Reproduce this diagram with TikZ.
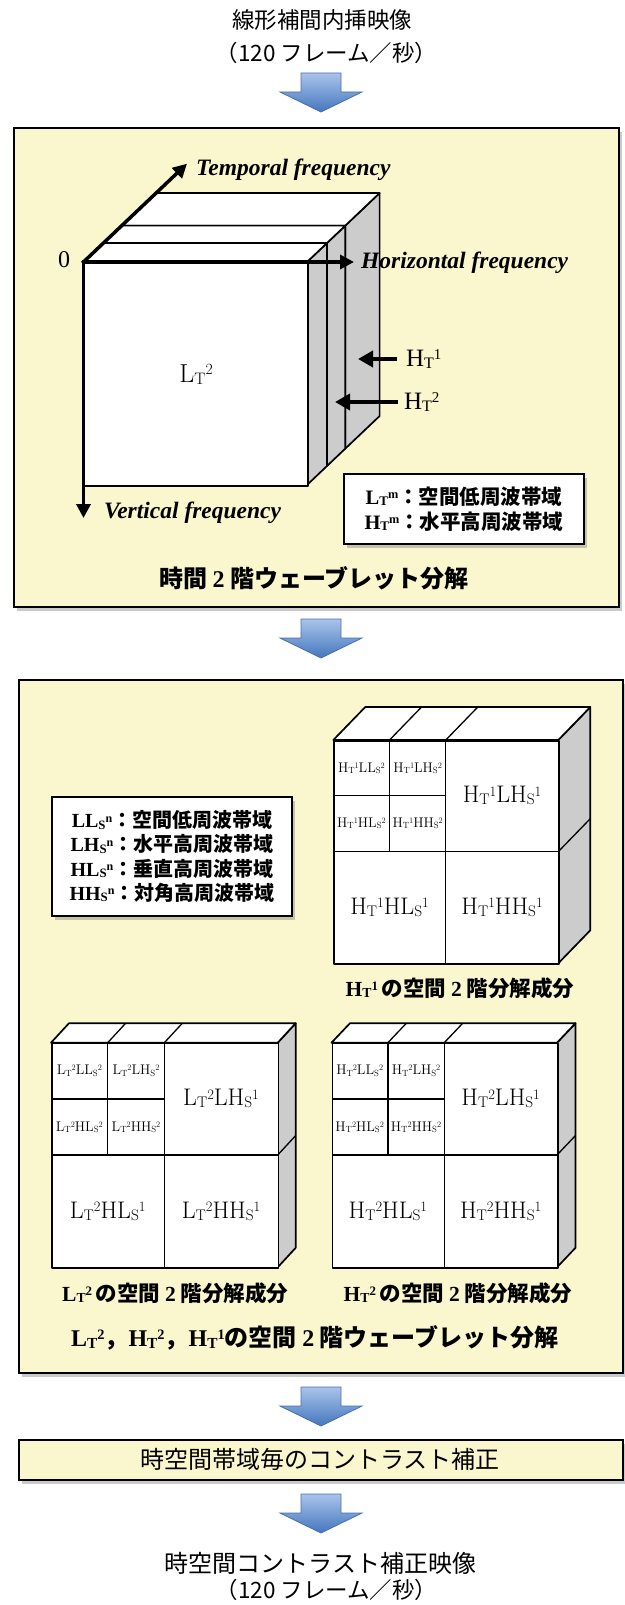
\documentclass[tikz,border=0pt]{standalone}
\usepackage{fontspec}
\usepackage{graphicx}
\newfontfamily\jp{Noto Sans CJK JP}
\newfontfamily\tms{Liberation Serif}
\usetikzlibrary{arrows.meta,shadows}
\definecolor{boxyellow}{RGB}{250,246,205}
\definecolor{arrtop}{RGB}{170,196,234}
\definecolor{arrbot}{RGB}{68,118,190}
\definecolor{arrline}{RGB}{72,112,170}
\definecolor{sidegray}{RGB}{204,204,204}
\newcommand\mysub[1]{\raisebox{-0.08em}{\scalebox{0.64}{#1}}}
\newcommand\mysup[1]{\raisebox{0.28em}{\scalebox{0.6}{#1}}}
\newcommand\fsz[2]{\fontsize{#1}{#2}\selectfont}
\newcommand\qcube[8]{%
 \draw[side] ({#1+#3},{#2}) -- ++(#5,-#6) -- ++(0,#4) -- ++(-#5,#6) -- cycle;
 \draw[thinl] ({#1+#3},{#2+#4/2}) -- ++(#5,-#6);
 \draw[face] ({#1},{#2}) -- ++(#5,-#6) -- ++(#3,0) -- ++(-#5,#6) -- cycle;
 \draw[thinl] ({#1+#3/4},{#2}) -- ++(#5,-#6);
 \draw[thinl] ({#1+#3/2},{#2}) -- ++(#5,-#6);
 \node[face, anchor=north west, minimum width=#3pt, minimum height=#4pt, inner sep=0pt] (#8) at (#1,#2) {};
 \draw[thinl] ({#1+#3/2},{#2}) -- ++(0,#4);
 \draw[thinl] ({#1},{#2+#4/2}) -- ++(#3,0);
 \draw[thinl] ({#1+#3/4},{#2}) -- ++(0,{#4/2});
 \draw[thinl] ({#1},{#2+#4/4}) -- ++({#3/2},0);
 \node[biglab] (#8-lh) at ({#1+#3*3/4},{#2+#4/4}) {#7LH\mysub{S}\mysup{1}};
 \node[biglab] (#8-hl) at ({#1+#3/4},{#2+#4*3/4}) {#7HL\mysub{S}\mysup{1}};
 \node[biglab] (#8-hh) at ({#1+#3*3/4},{#2+#4*3/4}) {#7HH\mysub{S}\mysup{1}};
 \node[smalllab] (#8-ll2) at ({#1+#3/8},{#2+#4/8}) {#7LL\mysub{S}\mysup{2}};
 \node[smalllab] (#8-lh2) at ({#1+#3*3/8},{#2+#4/8}) {#7LH\mysub{S}\mysup{2}};
 \node[smalllab] (#8-hl2) at ({#1+#3/8},{#2+#4*3/8}) {#7HL\mysub{S}\mysup{2}};
 \node[smalllab] (#8-hh2) at ({#1+#3*3/8},{#2+#4*3/8}) {#7HH\mysub{S}\mysup{2}};
}
\tikzset{
 panel/.style={draw=black, line width=1.8pt, fill=boxyellow, inner sep=0pt,
   drop shadow={shadow xshift=3pt, shadow yshift=-4pt, fill=black!60, opacity=0.35}},
 legendbox/.style={draw=black, line width=1.5pt, fill=white, inner sep=0pt,
   drop shadow={shadow xshift=3pt, shadow yshift=-4pt, fill=black!60, opacity=0.35}},
 bigarrow/.style={draw=arrline, line width=0.8pt, top color=arrtop, bottom color=arrbot},
 downarrow/.pic={\path[bigarrow] (-20,0) -- (20,0) -- (20,19) -- (41,19) -- (0,39) -- (-41,19) -- (-20,19) -- cycle;},
 face/.style={draw=black, line width=1.7pt, fill=white, line join=round},
 side/.style={draw=black, line width=1.7pt, fill=sidegray, line join=round},
 thinl/.style={draw=black, line width=1.3pt},
 axis/.style={line width=3.5pt, line cap=rect, -{Triangle[length=14pt,width=14pt]}},
 hta/.style={line width=4pt, -{Triangle[length=15pt,width=16pt]}},
 axlab/.style={font=\tms\bfseries\itshape\fsz{23.5}{26}, inner sep=0pt, anchor=west},
 biglab/.style={font=\fsz{24}{26}, inner sep=0pt},
 smalllab/.style={font=\fsz{14}{16}, inner sep=0pt},
 jpreg/.style={font=\jp\fsz{22.5}{26}, inner sep=0pt},
 jpcap/.style={font=\jp\bfseries\fsz{24}{28}, inner sep=0pt},
 jpsub/.style={font=\jp\bfseries\fsz{21.5}{25}, inner sep=0pt},
}
\begin{document}
\begin{tikzpicture}[x=1pt,y=-1pt]
\useasboundingbox (0,0) rectangle (624,1605);
% title
\node[jpreg] (t1) at (322,20) {線形補間内挿映像};
\node[jpreg] (t2) at (326.5,53) {（120 フレーム／秒）};
\pic at (321,73) {downarrow};
% box 1
\node[panel, anchor=north west, minimum width=605pt, minimum height=479pt] (box1) at (13,127) {};
\foreach \a/\b in {38.3/72.6, 20/38.3, 0/20}{
 \draw[side] ({307+\a},{262-0.95*\a}) -- ({307+\b},{262-0.95*\b}) -- ({307+\b},{485-0.95*\b}) -- ({307+\a},{485-0.95*\a}) -- cycle;
 \draw[face] ({83.5+\a},{262-0.95*\a}) -- ({83.5+\b},{262-0.95*\b}) -- ({307+\b},{262-0.95*\b}) -- ({307+\a},{262-0.95*\a}) -- cycle;
}
\node[face, anchor=north west, minimum width=223.5pt, minimum height=223pt, inner sep=0pt] (ltface) at (83.5,262) {};
\node[font=\fsz{26}{28}, inner sep=0pt] (lt2) at (ltface.center) {L\mysub{T}\mysup{2}};
\coordinate (O) at (83.5,262);
\coordinate (Ttip) at (187,163.7);
\coordinate (Htip) at (354,262);
\coordinate (Vtip) at (83.5,518);
\draw[axis] (O) -- (Ttip);
\draw[axis] (O) -- (Htip);
\draw[axis] (O) -- (Vtip);
\node[font=\tms\fsz{24}{26}, inner sep=0pt] (zero) at (64,260) {0};
\node[axlab] (tlab) at (196,170) {Temporal frequency};
\node[axlab] (hlab) at (361,263) {Horizontal frequency};
\node[axlab] (vlab) at (104,513) {Vertical frequency};
\node[font=\tms\fsz{25}{27}, inner sep=0pt, outer sep=9pt, anchor=west] (ht1) at (397,359) {H\mysub{T}\mysup{1}};
\coordinate (ht1tip) at (358,359);
\draw[hta] (ht1.west) -- (ht1tip);
\node[font=\tms\fsz{25}{27}, inner sep=0pt, outer sep=6pt, anchor=west] (ht2) at (398,402) {H\mysub{T}\mysup{2}};
\coordinate (ht2tip) at (335,402);
\draw[hta] (ht2.west) -- (ht2tip);
\node[legendbox, minimum width=240pt, minimum height=70pt, align=center, font=\jp\bfseries\fsz{20.5}{25}] (leg1) at (464,509)
 {{\tms\bfseries L\mysub{T}\mysup{m}}：空間低周波帯域\\{\tms\bfseries H\mysub{T}\mysup{m}}：水平高周波帯域};
\node[jpcap] (cap1) at (314,578) {時間 {\tms\bfseries 2} 階ウェーブレット分解};
\pic at (321,619) {downarrow};
% box 2
\node[panel, anchor=north west, minimum width=604pt, minimum height=693pt] (box2) at (18,679) {};
\node[legendbox, minimum width=240pt, minimum height=119pt, align=center, font=\jp\bfseries\fsz{20}{24.2}] (leg2) at (172,856.5)
 {{\tms\bfseries LL\mysub{S}\mysup{n}}：空間低周波帯域\\{\tms\bfseries LH\mysub{S}\mysup{n}}：水平高周波帯域\\{\tms\bfseries HL\mysub{S}\mysup{n}}：垂直高周波帯域\\{\tms\bfseries HH\mysub{S}\mysup{n}}：対角高周波帯域};
\qcube{333.3}{740}{225}{223.3}{32}{33}{H\mysub{T}\mysup{1}}{cA}
\node[jpsub] (capA) at (460,988) {{\tms\bfseries H\mysub{T}\mysup{1}}\,の空間 {\tms\bfseries 2} 階分解成分};
\qcube{51}{1042.7}{226.7}{224.6}{18}{19.5}{L\mysub{T}\mysup{2}}{cB}
\qcube{331.5}{1042.7}{225.5}{224.6}{18.5}{19.5}{H\mysub{T}\mysup{2}}{cC}
\node[jpsub] (capB) at (175.3,1293) {{\tms\bfseries L\mysub{T}\mysup{2}}\,の空間 {\tms\bfseries 2} 階分解成分};
\node[jpsub] (capC) at (458,1293) {{\tms\bfseries H\mysub{T}\mysup{2}}\,の空間 {\tms\bfseries 2} 階分解成分};
\node[jpcap] (cap2) at (314.7,1338) {{\tms\bfseries L\mysub{T}\mysup{2}}，{\tms\bfseries H\mysub{T}\mysup{2}}，{\tms\bfseries H\mysub{T}\mysup{1}}の空間 {\tms\bfseries 2} 階ウェーブレット分解};
\pic at (321,1387) {downarrow};
% box 3
\node[panel, anchor=north west, minimum width=604pt, minimum height=40pt] (box3) at (18,1439) {};
\node[font=\jp\fsz{24}{28}, inner sep=0pt] (b3t) at (320,1459.5) {時空間帯域毎のコントラスト補正};
\pic at (321,1494) {downarrow};
\node[font=\jp\fsz{24}{28}, inner sep=0pt] (f1) at (320.7,1563) {時空間コントラスト補正映像};
\node[jpreg] (f2) at (326.5,1590) {（120 フレーム／秒）};
\end{tikzpicture}
\end{document}
